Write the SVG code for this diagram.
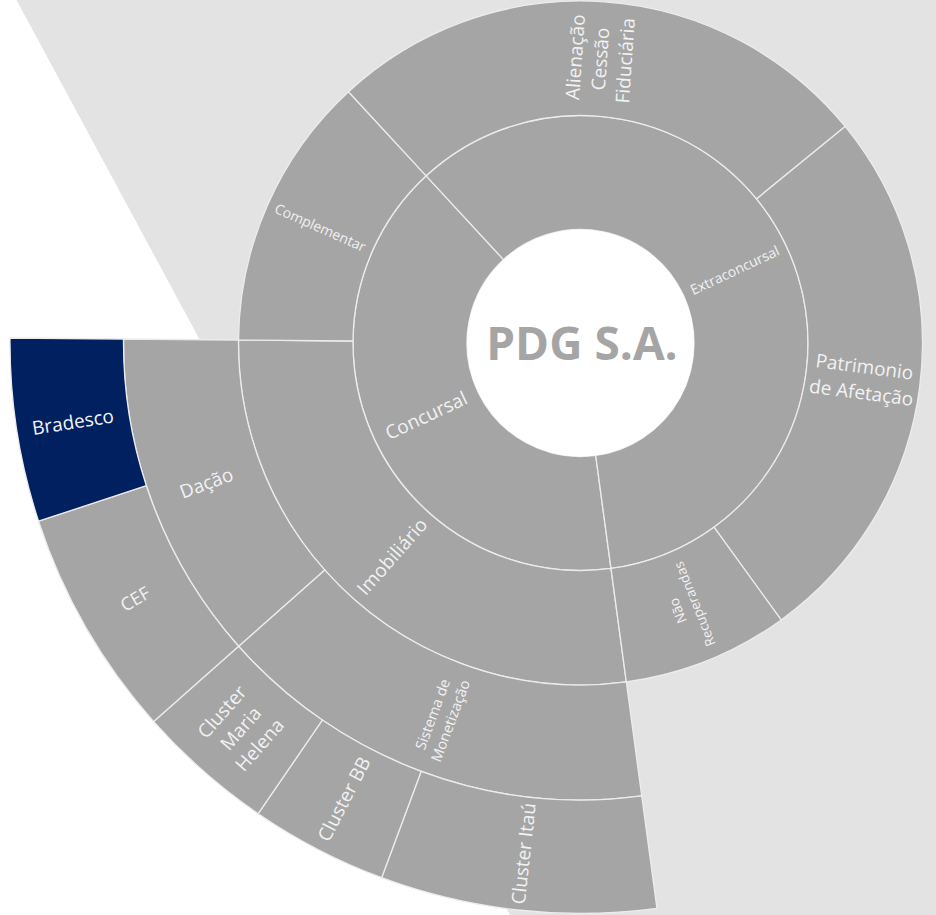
<svg xmlns="http://www.w3.org/2000/svg" width="936" height="915" viewBox="0 0 936 915">
<style>
.seg{fill:#a5a5a5;stroke:#ececec;stroke-width:1.3;stroke-linejoin:round}
.hl{fill:#002060}
.lb{font-family:"Open Sans","Liberation Sans",sans-serif;fill:#f2f2f2;text-anchor:middle}
.big{font-size:19px}
.sm{font-size:14px}
.title{font-family:"Open Sans","Liberation Sans",sans-serif;font-weight:bold;font-size:46px;fill:#a5a5a5;text-anchor:middle}
</style>
<rect width="936" height="915" fill="#ffffff"/>
<polygon points="16.5,0 936,0 936,915 510,915" fill="#e3e3e3"/>

<g id="concursal">
<path class="seg" d="M 610.98 568.45 A 227.5 227.5 0 0 1 426.17 175.85 L 503.5 259.61 A 113.5 113.5 0 0 0 595.71 455.48 Z"/>
<text class="lb big" transform="translate(426.2,415.6) rotate(-25.2)" y="6.6">Concursal</text>
</g>
<g id="extraconcursal">
<path class="seg" d="M 426.17 175.85 A 227.5 227.5 0 1 1 610.98 568.45 L 595.71 455.48 A 113.5 113.5 0 1 0 503.5 259.61 Z"/>
<text class="lb sm" transform="translate(734.8,270.4) rotate(-25.2)" y="4.9">Extraconcursal</text>
</g>
<g id="imobiliario">
<path class="seg" d="M 626.32 681.92 A 342 342 0 0 1 238.51 340.01 L 353.01 341.01 A 227.5 227.5 0 0 0 610.98 568.45 Z"/>
<text class="lb big" transform="translate(392.2,556.6) rotate(-48.6)" y="6.6">Imobiliário</text>
</g>
<g id="complementar">
<path class="seg" d="M 238.51 340.01 A 342 342 0 0 1 348.5 91.72 L 426.17 175.85 A 227.5 227.5 0 0 0 353.01 341.01 Z"/>
<text class="lb sm" transform="translate(320.2,227.6) rotate(23.9)" y="4.9">Complementar</text>
</g>
<g id="alienacao">
<path class="seg" d="M 348.5 91.72 A 342 342 0 0 1 845.15 126.38 L 756.55 198.91 A 227.5 227.5 0 0 0 426.17 175.85 Z"/>
<text class="lb big" transform="translate(600.4,58.9) rotate(-86)"><tspan x="0" y="-18.4">Alienação</tspan><tspan x="0" y="6.6">Cessão</tspan><tspan x="0" y="31.6">Fiduciária</tspan></text>
</g>
<g id="patrimonio">
<path class="seg" d="M 845.15 126.38 A 342 342 0 0 1 781.17 619.94 L 713.98 527.22 A 227.5 227.5 0 0 0 756.55 198.91 Z"/>
<text class="lb big" transform="translate(862.9,379.7) rotate(7.4)"><tspan x="0" y="-6.4">Patrimonio</tspan><tspan x="0" y="19.6">de Afetação</tspan></text>
</g>
<g id="nao-recuperandas">
<path class="seg" d="M 781.17 619.94 A 342 342 0 0 1 626.32 681.92 L 610.98 568.45 A 227.5 227.5 0 0 0 713.98 527.22 Z"/>
<text class="lb" style="font-size:13.5px" transform="translate(686.3,607.4) rotate(-111.8)"><tspan x="0" y="-4.3">Não</tspan><tspan x="0" y="13.7">Recuperandas</tspan></text>
</g>
<g id="sistema-monetizacao">
<path class="seg" d="M 641.73 795.88 A 457 457 0 0 1 238.61 646.25 L 324.65 569.94 A 342 342 0 0 0 626.32 681.92 Z"/>
<text class="lb" style="font-size:14.5px" transform="translate(441.6,717.6) rotate(-69.65)"><tspan x="0" y="-4.4">Sistema de</tspan><tspan x="0" y="14.6">Monetização</tspan></text>
</g>
<g id="dacao">
<path class="seg" d="M 238.61 646.25 A 457 457 0 0 1 123.52 339.01 L 238.51 340.01 A 342 342 0 0 0 324.65 569.94 Z"/>
<text class="lb big" transform="translate(206.4,483.2) rotate(-20.55)" y="6.6">Dação</text>
</g>
<g id="cluster-itau">
<path class="seg" d="M 656.94 908.35 A 570.5 570.5 0 0 1 381.64 877.72 L 421.2 771.34 A 457 457 0 0 0 641.73 795.88 Z"/>
<text class="lb big" transform="translate(523.7,853.6) rotate(-83.65)" y="6.6">Cluster Itaú</text>
</g>
<g id="cluster-bb">
<path class="seg" d="M 381.64 877.72 A 570.5 570.5 0 0 1 258.18 813.73 L 322.31 720.08 A 457 457 0 0 0 421.2 771.34 Z"/>
<text class="lb big" transform="translate(344.1,799.1) rotate(-62.6)" y="6.6">Cluster BB</text>
</g>
<g id="cluster-maria-helena">
<path class="seg" d="M 258.18 813.73 A 570.5 570.5 0 0 1 153.7 721.56 L 238.61 646.25 A 457 457 0 0 0 322.31 720.08 Z"/>
<text class="lb big" transform="translate(240.8,728.4) rotate(-48.6)"><tspan x="0" y="-18.4">Cluster</tspan><tspan x="0" y="6.6">Maria</tspan><tspan x="0" y="31.6">Helena</tspan></text>
</g>
<g id="cef">
<path class="seg" d="M 153.7 721.56 A 570.5 570.5 0 0 1 38.54 521.19 L 146.36 485.74 A 457 457 0 0 0 238.61 646.25 Z"/>
<text class="lb" style="font-size:18px" transform="translate(135.1,599.1) rotate(-29.9)" y="6.3">CEF</text>
</g>
<g id="bradesco">
<path class="seg hl" d="M 38.54 521.19 A 570.5 570.5 0 0 1 10.02 338.02 L 123.52 339.01 A 457 457 0 0 0 146.36 485.74 Z"/>
<text class="lb big" transform="translate(72.9,422.1) rotate(-8.85)" y="6.6">Bradesco</text>
</g>
<g id="pdg">
<circle cx="580.5" cy="343" r="113.5" fill="#ffffff"/>
<text class="title" x="582" y="360">PDG S.A.</text>
</g>
</svg>
